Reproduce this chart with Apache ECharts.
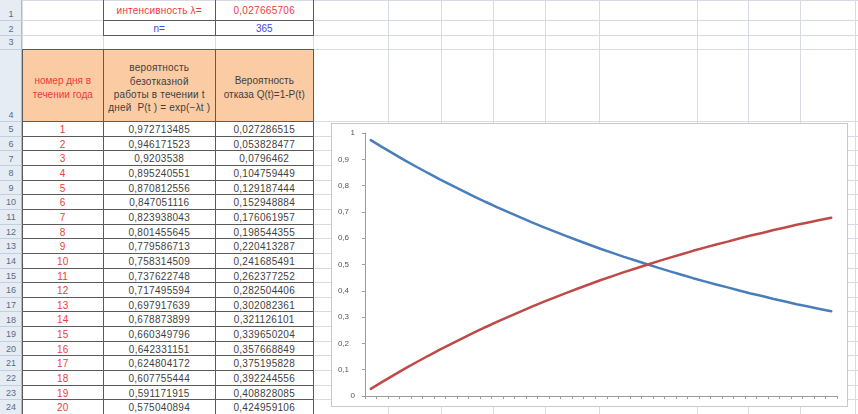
<!DOCTYPE html>
<html>
<head>
<meta charset="utf-8">
<script src="https://cdn.jsdelivr.net/npm/echarts@6/dist/echarts.min.js"></script>
<style>
  html, body { margin: 0; padding: 0; background: #fff; }
  #sheet { position: absolute; left: 0; top: 0; width: 858px; height: 414px; overflow: hidden; background: #fff;
           font-family: 'Liberation Sans', Arial, sans-serif; }
  .t { position: absolute; box-sizing: border-box; white-space: nowrap; text-align: center; overflow: visible; }
  #chartBox { position: absolute; left: 331px; top: 123px; width: 517px; height: 284px; box-sizing: border-box;
              border: 1px solid #c9c9c9; background: #fff; }
  #chart { position: absolute; left: 0; top: 0; width: 515px; height: 282px; }
</style>
</head>
<body>
<div id="sheet"></div>
<div id="chartBox"><div id="chart"></div></div>
<script>
// Day numbers t and reliability / failure probabilities, λ = 0,027665706
const days = [1, 2, 3, 4, 5, 6, 7, 8, 9, 10, 11, 12, 13, 14, 15, 16, 17, 18, 19, 20,
              21, 22, 23, 24, 25, 26, 27, 28, 29, 30, 31, 32, 33, 34, 35, 36, 37, 38, 39, 40, 41];
const pValues = [0.972713485, 0.946171523, 0.9203538, 0.895240551, 0.870812556, 0.847051116, 0.823938043,
                 0.801455645, 0.779586713, 0.758314509, 0.737622748, 0.717495594, 0.697917639, 0.678873899,
                 0.660349796, 0.642331151, 0.624804172, 0.607755444, 0.591171915, 0.575040894,
                 0.559, 0.544, 0.529, 0.515, 0.501, 0.487, 0.474, 0.461, 0.448, 0.436, 0.424,
                 0.413, 0.401, 0.390, 0.380, 0.369, 0.359, 0.349, 0.340, 0.331, 0.322];
const qValues = [0.027286515, 0.053828477, 0.0796462, 0.104759449, 0.129187444, 0.152948884, 0.176061957,
                 0.198544355, 0.220413287, 0.241685491, 0.262377252, 0.282504406, 0.302082361, 0.321126101,
                 0.339650204, 0.357668849, 0.375195828, 0.392244556, 0.408828085, 0.424959106,
                 0.441, 0.456, 0.471, 0.485, 0.499, 0.513, 0.526, 0.539, 0.552, 0.564, 0.576,
                 0.587, 0.599, 0.610, 0.620, 0.631, 0.641, 0.651, 0.660, 0.669, 0.678];
const lambdaLabel = 'интенсивность λ=';
const lambdaText = '0,027665706';
const nLabel = 'n=';
const nText = '365';
const headDay = 'номер дня в<br>течении года';
const headP = 'вероятность<br>безотказной<br>работы в течении t<br>дней&nbsp; P(t ) = exp(−λt )';
const headQ = 'Вероятность<br>отказа Q(t)=1-P(t)';
const shownRows = 20;

// ---- worksheet ----
const sheet = document.getElementById('sheet');
function el(x0, y0, x1, y1, css, html) {
  const d = document.createElement('div');
  d.className = 't';
  d.style.cssText += `left:${x0}px;top:${y0}px;width:${x1 - x0}px;height:${y1 - y0}px;` + (css || '');
  if (html != null) d.innerHTML = html;
  sheet.appendChild(d);
  return d;
}
function hline(x0, x1, y, color) { el(x0, y - 0.5, x1, y + 0.5, `background:${color};`); }
function vline(x, y0, y1, color) { el(x - 0.5, y0, x + 0.5, y1, `background:${color};`); }

const colEdges = [0, 22, 103.5, 215, 313.5, 388, 441, 493, 545, 599, 697, 748, 800, 855];
const rowEdges = [0, 20.7, 35.7, 49.3, 121.7];
const rowH = 14.63;
for (let i = 1; i <= shownRows; i++) rowEdges.push(121.7 + i * rowH);

const grid = '#d8dce2', dark = '#5a5a5a';
const red = '#ec3b3b', blue = '#4646ee', txt = '#3f3f3f';

// light gridlines
colEdges.forEach(x => vline(x, 0, 414, grid));
rowEdges.forEach(y => hline(0, 858, y, grid));

// row header column
el(0, 0, 22, 414, 'background:#e6ecf4;border-right:1px solid #a9bcd3;');
for (let r = 0; r < rowEdges.length - 1; r++) {
  const y0 = rowEdges[r], y1 = rowEdges[r + 1];
  hline(0, 22, y1, '#c3cfdd');
  el(0, y1 - 13, 22, y1, 'font-size:9px;line-height:13px;color:#5a6a84;', String(r + 1));
}

// header fill row 4
el(22.5, rowEdges[3], 313.5, rowEdges[4], 'background:#fbcba4;');

// top parameter block B1:C2
el(103.5, rowEdges[0], 215, rowEdges[1], `font-size:10px;letter-spacing:0.2px;line-height:${rowEdges[1]}px;padding-top:1px;color:${red};`, lambdaLabel);
el(215, rowEdges[0], 313.5, rowEdges[1], `font-size:10px;letter-spacing:0.3px;line-height:${rowEdges[1]}px;padding-top:1px;color:${red};`, lambdaText);
el(103.5, rowEdges[1], 215, rowEdges[2], `font-size:10px;line-height:15px;color:${blue};`, nLabel);
el(215, rowEdges[1], 313.5, rowEdges[2], `font-size:10px;line-height:15px;color:${blue};`, nText);
[103.5, 215, 313.5].forEach(x => vline(x, 0, rowEdges[2], dark));
hline(103.5, 313.5, rowEdges[1], dark);
hline(103.5, 313.5, rowEdges[2], dark);

// header texts
el(22, rowEdges[3] + 25, 103.5, rowEdges[3] + 55, `font-size:10px;line-height:13.3px;color:${red};`, headDay);
el(103.5, rowEdges[3] + 12, 215, rowEdges[3] + 66, `font-size:10px;letter-spacing:0.2px;line-height:13.3px;color:${txt};`, headP);
el(215, rowEdges[3] + 25, 313.5, rowEdges[3] + 55, `font-size:10px;line-height:13.3px;color:${txt};`, headQ);

// data rows
for (let i = 0; i < shownRows; i++) {
  const y0 = rowEdges[4 + i], y1 = rowEdges[5 + i];
  const cs = `font-size:10px;letter-spacing:0.3px;line-height:${rowH}px;padding-top:1.5px;`;
  el(22, y0, 103.5, y1, cs + `color:${red};`, String(days[i]));
  el(103.5, y0, 215, y1, cs + `color:${txt};`, String(pValues[i]).replace('.', ','));
  el(215, y0, 313.5, y1, cs + `color:${txt};`, String(qValues[i]).replace('.', ','));
}
// table borders
[22.5, 103.5, 215, 313.5].forEach(x => vline(x, rowEdges[3], 414, dark));
for (let r = 3; r < rowEdges.length; r++) hline(22.5, 313.5, rowEdges[r], dark);

// ---- chart ----
const chart = echarts.init(document.getElementById('chart'), null, { renderer: 'canvas' });
const axisColor = '#9c9c9c';
const labelFont = 'Liberation Sans, Arial, sans-serif';
chart.setOption({
  animation: false,
  backgroundColor: '#fff',
  grid: { left: 33, top: 9, right: 10, bottom: 10 },
  xAxis: {
    type: 'category',
    data: days,
    boundaryGap: true,
    axisLine: { show: true, lineStyle: { color: axisColor, width: 1 } },
    axisTick: { show: true, interval: 0, length: 3, lineStyle: { color: axisColor } },
    axisLabel: { show: false },
    splitLine: { show: false }
  },
  yAxis: {
    type: 'value',
    min: 0, max: 1, interval: 0.1,
    axisLine: { show: true, lineStyle: { color: axisColor, width: 1 } },
    axisTick: { show: true, length: 3, lineStyle: { color: axisColor } },
    splitLine: { show: false },
    axisLabel: {
      fontSize: 8, color: '#555', margin: 10, fontFamily: labelFont,
      formatter: v => {
        const s = String(Math.round(v * 10) / 10).replace('.', ',');
        return (v === 0 || v === 1) ? s : '{d|' + s + '}';
      },
      rich: { d: { fontSize: 8, color: '#555', padding: [0, 6, 0, 0], fontFamily: labelFont } }
    }
  },
  series: [
    { name: 'P(t)', type: 'line', data: pValues, showSymbol: false, smooth: false,
      lineStyle: { color: '#4a7ebb', width: 2.5, cap: 'round' } },
    { name: 'Q(t)', type: 'line', data: qValues, showSymbol: false, smooth: false,
      lineStyle: { color: '#be4b48', width: 2.5, cap: 'round' } }
  ]
});
</script>
</body>
</html>
